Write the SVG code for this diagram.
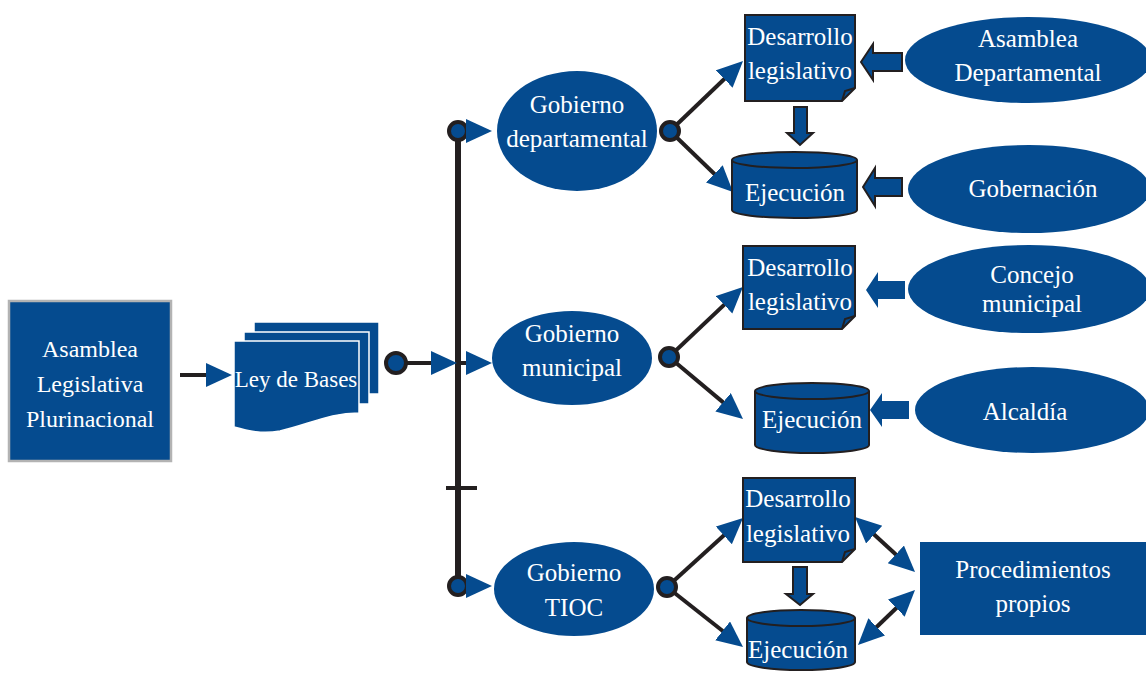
<svg xmlns="http://www.w3.org/2000/svg" width="1146" height="673" viewBox="0 0 1146 673">
<style>
.fill{fill:#054b8f}
.t{font-family:"Liberation Serif","DejaVu Serif",serif;font-size:25px;fill:#ffffff;text-anchor:middle}
.doc{fill:#054b8f;stroke:#231f20;stroke-width:2}
.cyl{fill:#054b8f;stroke:#231f20;stroke-width:2}
.ln{stroke:#231f20;stroke-width:4;fill:none}
.dot{fill:#054b8f;stroke:#231f20;stroke-width:4}
.blk{fill:#054b8f;stroke:#231f20;stroke-width:2}
.blkn{fill:#054b8f}
</style>
<defs>
<marker id="ah" markerUnits="userSpaceOnUse" markerWidth="28" markerHeight="26" refX="20" refY="12" orient="auto-start-reverse">
<path d="M0,0 L26,12 L0,24 Z" fill="#054b8f"/>
</marker>
</defs>
<rect width="1146" height="673" fill="#ffffff"/>

<g id="connectors">
<line class="ln" x1="458" y1="131" x2="458" y2="586" style="stroke-width:6"/>
<line class="ln" x1="446" y1="488" x2="477" y2="488"/>
<line class="ln" x1="180" y1="375" x2="226" y2="375" marker-end="url(#ah)"/>
<line class="ln" x1="405" y1="363" x2="451" y2="363" marker-end="url(#ah)"/>
<line class="ln" x1="458" y1="363" x2="486" y2="363" marker-end="url(#ah)"/>
<circle class="dot" cx="458" cy="131" r="9"/>
<circle class="dot" cx="458" cy="586" r="9"/>
<circle class="dot" cx="396" cy="363" r="10"/>
<line class="ln" x1="469" y1="131" x2="486" y2="131" marker-end="url(#ah)"/>
<line class="ln" x1="469" y1="586" x2="486" y2="586" marker-end="url(#ah)"/>
<line class="ln" x1="670" y1="131" x2="738.7" y2="65.2" marker-end="url(#ah)"/>
<line class="ln" x1="670" y1="131" x2="728.7" y2="187.8" marker-end="url(#ah)"/>
<line class="ln" x1="669" y1="357" x2="738.6" y2="291.1" marker-end="url(#ah)"/>
<line class="ln" x1="669" y1="357" x2="738.4" y2="415.1" marker-end="url(#ah)"/>
<line class="ln" x1="667" y1="587" x2="738.6" y2="522" marker-end="url(#ah)"/>
<line class="ln" x1="667" y1="587" x2="738.3" y2="643.3" marker-end="url(#ah)"/>
<line class="ln" x1="859.4" y1="521.1" x2="910.6" y2="567.9" marker-start="url(#ah)" marker-end="url(#ah)"/>
<line class="ln" x1="862.3" y1="640.8" x2="910.7" y2="594.2" marker-start="url(#ah)" marker-end="url(#ah)"/>
<circle class="dot" cx="670" cy="131" r="9"/>
<circle class="dot" cx="669" cy="357" r="9"/>
<circle class="dot" cx="667" cy="587" r="9"/>
<polygon class="blk" points="861,62 873,44 873,53 902,53 902,71 873,71 873,80"/>
<polygon class="blk" points="863,187 875,168 875,178 902,178 902,196 875,196 875,206"/>
<polygon class="blkn" points="866,290 878,272 878,281 905,281 905,299 878,299 878,308"/>
<polygon class="blkn" points="870,410 882,393 882,401 909,401 909,419 882,419 882,427"/>
<polygon class="blk" points="794,107 807,107 807,133 813,133 800,145 787,133 794,133"/>
<polygon class="blk" points="793,567 807,567 807,594 813,594 800,605 786,594 793,594"/>
</g>

<g id="asamblea-legislativa">
<rect x="9" y="301" width="162" height="160" class="fill" stroke="#b3b3b3" stroke-width="2.5"/>
<text class="t" x="90" y="357" style="font-size:24px">Asamblea</text>
<text class="t" x="90" y="392" style="font-size:24px">Legislativa</text>
<text class="t" x="90" y="427" style="font-size:24px">Plurinacional</text>
</g>

<g id="ley-de-bases">
<rect x="254" y="322" width="125" height="72" class="fill" stroke="#ffffff" stroke-width="1.5"/>
<rect x="244" y="332" width="125" height="72" class="fill" stroke="#ffffff" stroke-width="1.5"/>
<path d="M234,341 H359 V413 C330,413 310,424 280,431 C262,434 248,431 234,427 Z" class="fill" stroke="#ffffff" stroke-width="1.5"/>
<text class="t" x="296" y="387" style="font-size:23px">Ley de Bases</text>
</g>

<g id="gobierno-departamental">
<ellipse cx="577" cy="131" rx="80" ry="60" class="fill"/>
<text class="t" x="577" y="113">Gobierno</text>
<text class="t" x="577" y="147">departamental</text>
</g>

<g id="desarrollo-1">
<path class="doc" d="M745,15 H855 V88 L842,101 H745 Z"/>
<path d="M842,101 L845,91 L855,88" fill="none" stroke="#231f20" stroke-width="2"/>
<text class="t" x="800" y="45">Desarrollo</text>
<text class="t" x="800" y="79">legislativo</text>
</g>

<g id="ejecucion-1">
<path class="cyl" d="M732,160 A62.5,8 0 0 1 857,160 V210 A62.5,8 0 0 1 732,210 Z"/>
<path d="M732,160 A62.5,8 0 0 0 857,160" fill="none" stroke="#231f20" stroke-width="2"/>
<text class="t" x="795" y="201">Ejecución</text>
</g>

<g id="asamblea-departamental">
<ellipse cx="1028" cy="60" rx="123" ry="43" class="fill"/>
<text class="t" x="1028" y="47">Asamblea</text>
<text class="t" x="1028" y="81">Departamental</text>
</g>

<g id="gobernacion">
<ellipse cx="1029" cy="189" rx="121" ry="44" class="fill"/>
<text class="t" x="1033" y="197">Gobernación</text>
</g>

<g id="gobierno-municipal">
<ellipse cx="572" cy="358" rx="80" ry="47" class="fill"/>
<text class="t" x="572" y="342">Gobierno</text>
<text class="t" x="572" y="376">municipal</text>
</g>

<g id="desarrollo-2">
<path class="doc" d="M743,246 H855 V316 L842,329 H743 Z"/>
<path d="M842,329 L845,319 L855,316" fill="none" stroke="#231f20" stroke-width="2"/>
<text class="t" x="800" y="276">Desarrollo</text>
<text class="t" x="800" y="310">legislativo</text>
</g>

<g id="ejecucion-2">
<path class="cyl" d="M755,391 A57,8 0 0 1 869,391 V445 A57,8 0 0 1 755,445 Z"/>
<path d="M755,391 A57,8 0 0 0 869,391" fill="none" stroke="#231f20" stroke-width="2"/>
<text class="t" x="812" y="428">Ejecución</text>
</g>

<g id="concejo-municipal">
<ellipse cx="1029" cy="289" rx="121" ry="44" class="fill"/>
<text class="t" x="1032" y="283">Concejo</text>
<text class="t" x="1032" y="312">municipal</text>
</g>

<g id="alcaldia">
<ellipse cx="1032" cy="410" rx="117" ry="43" class="fill"/>
<text class="t" x="1025" y="420">Alcaldía</text>
</g>

<g id="gobierno-tioc">
<ellipse cx="574" cy="589" rx="80" ry="47" class="fill"/>
<text class="t" x="574" y="581">Gobierno</text>
<text class="t" x="574" y="616">TIOC</text>
</g>

<g id="desarrollo-3">
<path class="doc" d="M743,478 H855 V549 L842,562 H743 Z"/>
<path d="M842,562 L845,552 L855,549" fill="none" stroke="#231f20" stroke-width="2"/>
<text class="t" x="798" y="507">Desarrollo</text>
<text class="t" x="798" y="542">legislativo</text>
</g>

<g id="ejecucion-3">
<path class="cyl" d="M747,618 A54,8 0 0 1 855,618 V662 A54,8 0 0 1 747,662 Z"/>
<path d="M747,618 A54,8 0 0 0 855,618" fill="none" stroke="#231f20" stroke-width="2"/>
<text class="t" x="798" y="658">Ejecución</text>
</g>

<g id="procedimientos-propios">
<rect x="920" y="542" width="226" height="93" class="fill"/>
<text class="t" x="1033" y="578">Procedimientos</text>
<text class="t" x="1033" y="612">propios</text>
</g>
</svg>
